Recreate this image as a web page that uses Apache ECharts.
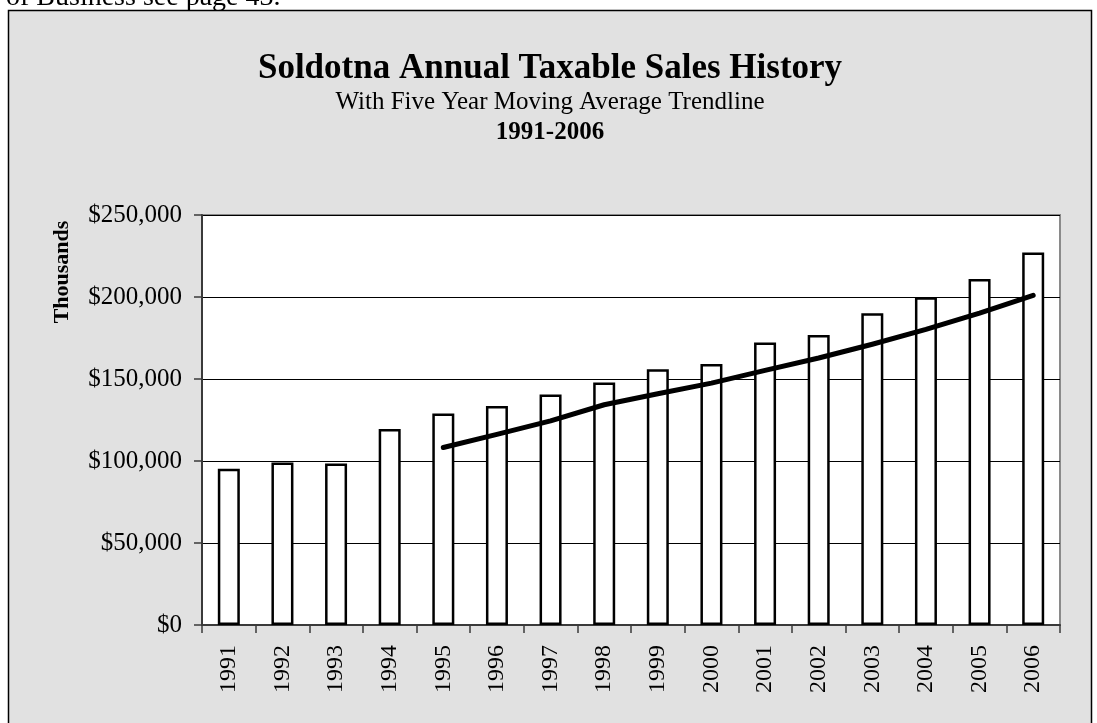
<!DOCTYPE html>
<html>
<head>
<meta charset="utf-8">
<script src="https://cdn.jsdelivr.net/npm/echarts@6/dist/echarts.min.js"></script>
<style>
html,body{margin:0;padding:0;background:#ffffff;}
#chart{width:1097px;height:723px;}
</style>
</head>
<body>
<div id="chart"></div>
<script>
const years = ['1991','1992','1993','1994','1995','1996','1997','1998','1999','2000','2001','2002','2003','2004','2005','2006'];
const sales = [95200, 99100, 98500, 119500, 129000, 133600, 140600, 147900, 156000, 159200, 172300, 176800, 190100, 199800, 211000, 227100];
const movingAvg = [null, null, null, null, 108200, 116200, 124500, 134300, 141000, 147500, 155300, 162800, 171200, 180300, 190200, 201000];
const yTicks = [0, 50000, 100000, 150000, 200000, 250000];
const titleText = 'Soldotna Annual Taxable Sales History';
const subtitleText = 'With Five Year Moving Average Trendline';
const yearsText = '1991-2006';
const yName = 'Thousands';
const headerText = 'of Business see page 43.';

const FONT = "'Liberation Serif', 'Times New Roman', serif";
const chart = echarts.init(document.getElementById('chart'), null, {renderer: 'canvas'});

function money(v) {
  return '$' + String(v).replace(/\B(?=(\d{3})+(?!\d))/g, ',');
}

chart.setOption({
  animation: false,
  backgroundColor: '#ffffff',
  graphic: [
    {type: 'text', z: -20, style: {text: headerText, x: 6, y: 12, font: '28px ' + FONT, fill: '#000', verticalAlign: 'bottom'}},
    {type: 'rect', z: -10, shape: {x: 8.5, y: 10.5, width: 1083, height: 730}, style: {fill: '#e1e1e1', stroke: '#000', lineWidth: 1.5}},
    {type: 'text', style: {text: titleText, x: 550, y: 69, font: 'bold 35px ' + FONT, fill: '#000', align: 'center', verticalAlign: 'middle'}},
    {type: 'text', style: {text: subtitleText, x: 550, y: 102, font: '25px ' + FONT, fill: '#000', align: 'center', verticalAlign: 'middle'}},
    {type: 'text', style: {text: yearsText, x: 550, y: 133, font: 'bold 25px ' + FONT, fill: '#000', align: 'center', verticalAlign: 'middle'}},
    {type: 'text', rotation: Math.PI / 2, x: 62, y: 272, style: {text: yName, x: 0, y: 0, font: 'bold 22px ' + FONT, fill: '#000', align: 'center', verticalAlign: 'middle'}}
  ],
  grid: {
    left: 202, top: 215, right: 37, bottom: 98,
    show: true, backgroundColor: '#ffffff', borderColor: '#8a8a8a', borderWidth: 2,
    containLabel: false
  },
  xAxis: {
    type: 'category',
    data: years,
    boundaryGap: true,
    axisLine: {show: true, lineStyle: {color: '#3a3a3a', width: 2}},
    axisTick: {show: true, length: 8, inside: false, lineStyle: {color: '#3a3a3a', width: 1.5}},
    axisLabel: {rotate: 90, margin: 20, color: '#000', fontFamily: FONT, fontSize: 24, interval: 0},
    splitLine: {show: false}
  },
  yAxis: {
    type: 'value',
    min: 0, max: 250000, interval: 50000,
    axisLine: {show: true, lineStyle: {color: '#3a3a3a', width: 2}},
    axisTick: {show: true, length: 8, lineStyle: {color: '#3a3a3a', width: 1.5}},
    axisLabel: {margin: 20, color: '#000', fontFamily: FONT, fontSize: 25, formatter: money},
    splitLine: {show: true, lineStyle: {color: '#000', width: 1}}
  },
  series: [
    {
      type: 'bar',
      data: sales,
      barWidth: 22,
      itemStyle: {color: '#ffffff', borderColor: '#000', borderWidth: 2.5},
      z: 2
    },
    {
      type: 'line',
      data: movingAvg,
      showSymbol: false,
      symbol: 'none',
      connectNulls: false,
      lineStyle: {color: '#000', width: 5, cap: 'round', join: 'round'},
      z: 3
    }
  ]
});
</script>
</body>
</html>
